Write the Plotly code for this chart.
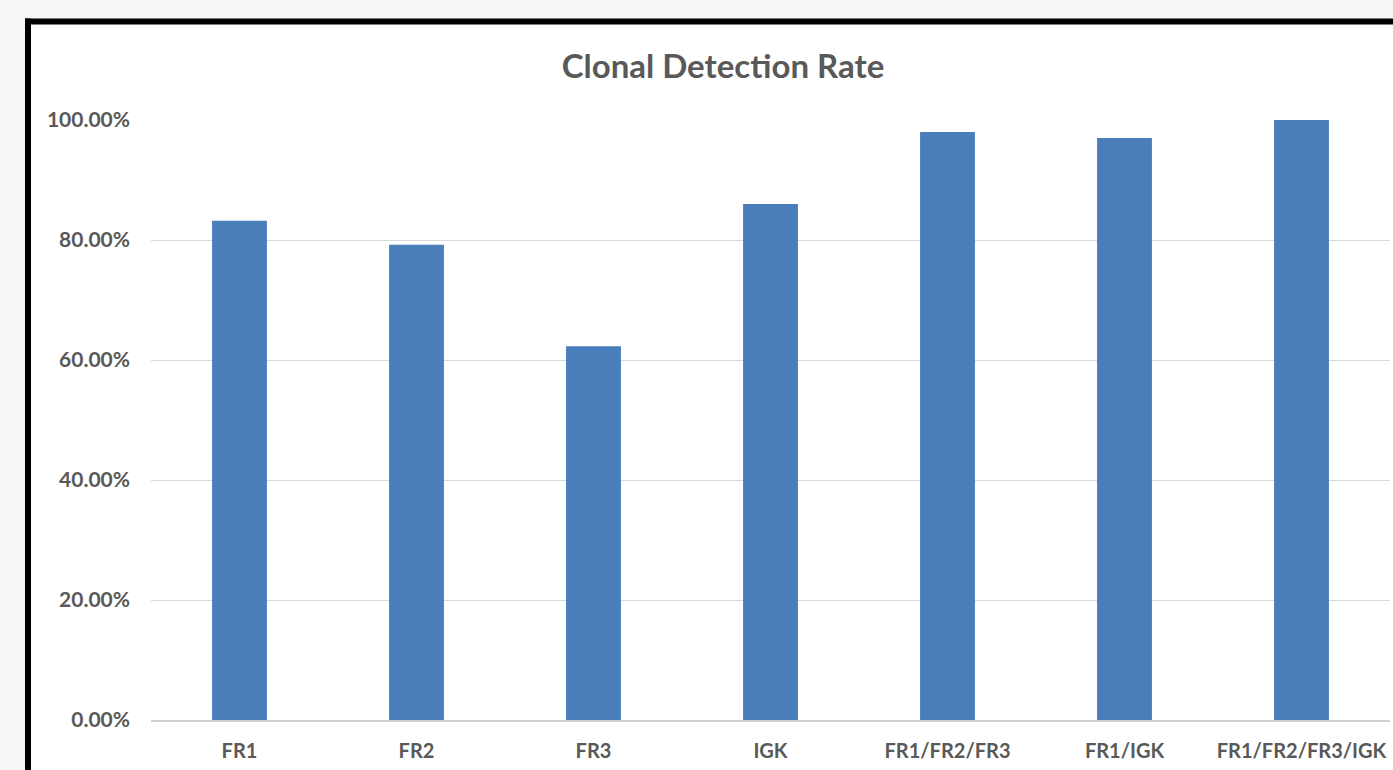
import plotly.graph_objects as go

categories = ["FR1", "FR2", "FR3", "IGK", "FR1/FR2/FR3", "FR1/IGK", "FR1/FR2/FR3/IGK"]
rates = [83.2, 79.2, 62.3, 86.0, 98.0, 97.0, 100.0]
y_ticks = [0, 20, 40, 60, 80, 100]
y_tick_labels = ["0.00%", "20.00%", "40.00%", "60.00%", "80.00%", "100.00%"]

W, H = 1393, 770
L, R, T, B = 151, 3, 120, 50
pw, ph = W - L - R, H - T - B

def px_x(x):
    return (x - L) / pw

def px_y(y):
    return 1 + (T - y) / ph

fig = go.Figure(go.Bar(
    x=categories, y=rates, width=0.31,
    marker=dict(color="#4a7ebb", line=dict(width=0)),
    hoverinfo="x+y",
))

fig.update_layout(
    width=W, height=H,
    margin=dict(l=L, r=R, t=T, b=B),
    paper_bgcolor="#f6f6f6",
    plot_bgcolor="white",
    showlegend=False,
    bargap=0.69,
    title=dict(text="Clonal Detection Rate", x=723 / W, y=1 - 66 / H,
               xanchor="center", yanchor="middle",
               font=dict(family="Lato", size=33, color="#595959", weight=700)),
    font=dict(family="Lato", color="#595959"),
    shapes=[
        dict(type="rect", xref="paper", yref="paper", layer="below",
             x0=px_x(31), x1=px_x(1393), y0=px_y(770), y1=px_y(24),
             fillcolor="white", line=dict(width=0)),
        dict(type="line", xref="paper", yref="paper",
             x0=px_x(28), x1=px_x(28), y0=px_y(770), y1=px_y(18.5),
             line=dict(color="black", width=6)),
        dict(type="line", xref="paper", yref="paper",
             x0=px_x(25), x1=px_x(1393), y0=px_y(21.5), y1=px_y(21.5),
             line=dict(color="black", width=6)),
    ],
)

fig.update_xaxes(
    showgrid=False, showline=True, linecolor="#d0d0d0", linewidth=1.5,
    ticks="", tickfont=dict(family="Lato", size=20, color="#595959", weight=700),
    ticklabelstandoff=12, fixedrange=True, automargin=False,
)
fig.update_yaxes(
    range=[0, 100], tickvals=y_ticks, ticktext=y_tick_labels,
    showgrid=True, gridcolor="#d9d9d9", gridwidth=1,
    zeroline=False, showline=False, ticks="",
    tickfont=dict(family="Lato", size=21, color="#595959", weight=700),
    ticklabelstandoff=20, fixedrange=True, automargin=False,
)

fig.write_html(
    "out.html",
    config={"displayModeBar": False},
    post_script="document.body.style.margin='0';document.body.style.overflow='hidden';",
)
